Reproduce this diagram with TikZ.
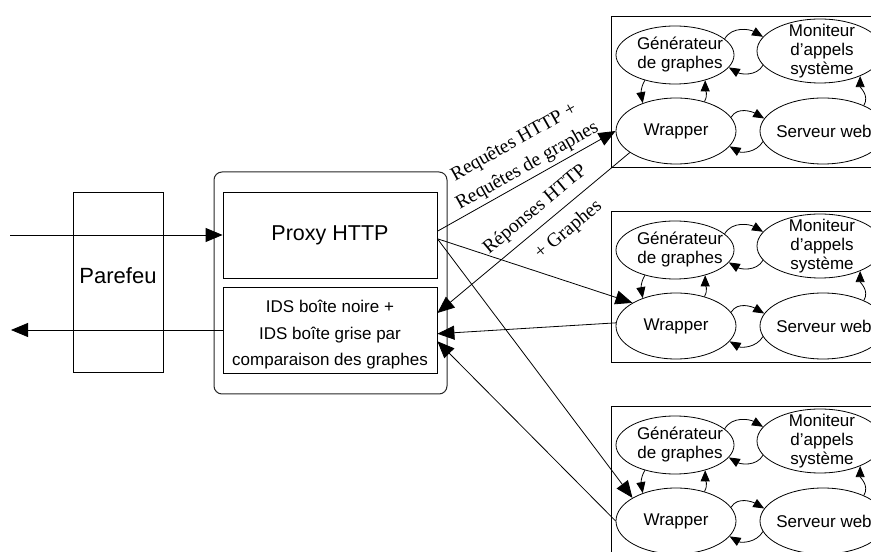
\documentclass[tikz,border=0pt]{standalone}
\usepackage{fontspec}
\setmainfont{Liberation Sans}
\newfontfamily\seriffont{Liberation Serif}
\usetikzlibrary{shapes.geometric,arrows.meta}

\tikzset{
  box/.style={draw, rectangle, inner sep=0pt, line width=0.8pt},
  proc/.style={draw, ellipse, inner sep=0pt, line width=0.8pt},
  ptext/.style={align=center, font=\fontsize{17}{19}\selectfont},
  bigarrow/.style={-{Triangle[length=17pt,width=14pt]}, line width=0.8pt},
  smallarrow/.style={-{Triangle[length=11pt,width=9pt]}, line width=0.8pt},
  msg/.style={font=\seriffont\fontsize{19.5}{27}\selectfont, sloped, align=center},
}

\begin{document}
\begin{tikzpicture}[x=1pt,y=1pt]
  \useasboundingbox (0,0) rectangle (871,552);
  \clip (0,0) rectangle (871,552);

  % Firewall and proxy
  \node[box, minimum width=90, minimum height=180,
        label={[font=\fontsize{22}{24}\selectfont, yshift=6pt]center:Parefeu}] (fw) at (118,270) {};
  \draw[rounded corners=8pt, line width=1pt, black!85] (214,158) rectangle (447,380);
  \node[box, minimum width=214, minimum height=86, font=\fontsize{21.5}{24}\selectfont] (proxy) at (330,317) {Proxy HTTP};
  \node[box, minimum width=214, minimum height=86,
        label={[align=center, font=\fontsize{17}{26.5}\selectfont, yshift=-5pt]center:IDS boîte noire +\\IDS boîte grise par\\comparaison des graphes}] (ids) at (330,222) {};

  \coordinate (inp) at (10,317);
  \coordinate (outp) at (11,222);
  \draw[bigarrow] (inp) -- (proxy.west);
  \draw[bigarrow] (ids.west) -- (outp);

  % Servers
  \foreach \k/\dy in {1/0, 2/195, 3/390} {
    \draw[line width=0.8pt] (611,536-\dy) rectangle ++(280,-151);
    \node[proc, minimum width=118, minimum height=58, label={[ptext, xshift=5pt]center:Générateur\\de graphes}] (g\k) at (675,497-\dy) {};
    \node[proc, minimum width=126, minimum height=64, label={[ptext, xshift=2pt]center:Moniteur\\d’appels\\système}] (m\k) at (820,501-\dy) {};
    \node[proc, minimum width=120, minimum height=66, label={[ptext]center:Wrapper}] (w\k) at (676,421-\dy) {};
    \node[proc, minimum width=126, minimum height=66, label={[ptext, xshift=1pt]center:Serveur web}] (s\k) at (823,421-\dy) {};

    \draw[smallarrow] (g\k.18) to[out=60, in=150] (m\k.166);
    \draw[smallarrow] (m\k.194) to[out=-120, in=-30] (g\k.-13);
    \draw[smallarrow] (g\k.-140) to[out=-120, in=100] (w\k.140);
    \draw[smallarrow] (w\k.46) to[out=60, in=-90] (g\k.-40);
    \draw[smallarrow] (w\k.14) to[out=60, in=150] (s\k.168);
    \draw[smallarrow] (s\k.190) to[out=-120, in=-30] (w\k.-16);
    \draw[smallarrow] (s\k.32) to[out=60, in=-90] (m\k.-32);
  }

  % Requests and answers
  \draw[bigarrow] (proxy.2) -- node[msg, above, pos=0.54] {Requêtes HTTP +\\Requêtes de graphes} (w1.west);
  \draw[bigarrow] (w1.205) -- node[msg, above=4pt, pos=0.436] {Réponses HTTP}
                              node[msg, below=8pt, pos=0.386] {+ Graphes} (ids.9);
  \draw[bigarrow] (proxy.-2) -- (w2.152);
  \draw[bigarrow] (w2.177) -- (ids.-2);
  \draw[bigarrow] (proxy.-2) -- (w3.152);
  \draw[bigarrow] (w3.west) -- (ids.-6);
\end{tikzpicture}
\end{document}
